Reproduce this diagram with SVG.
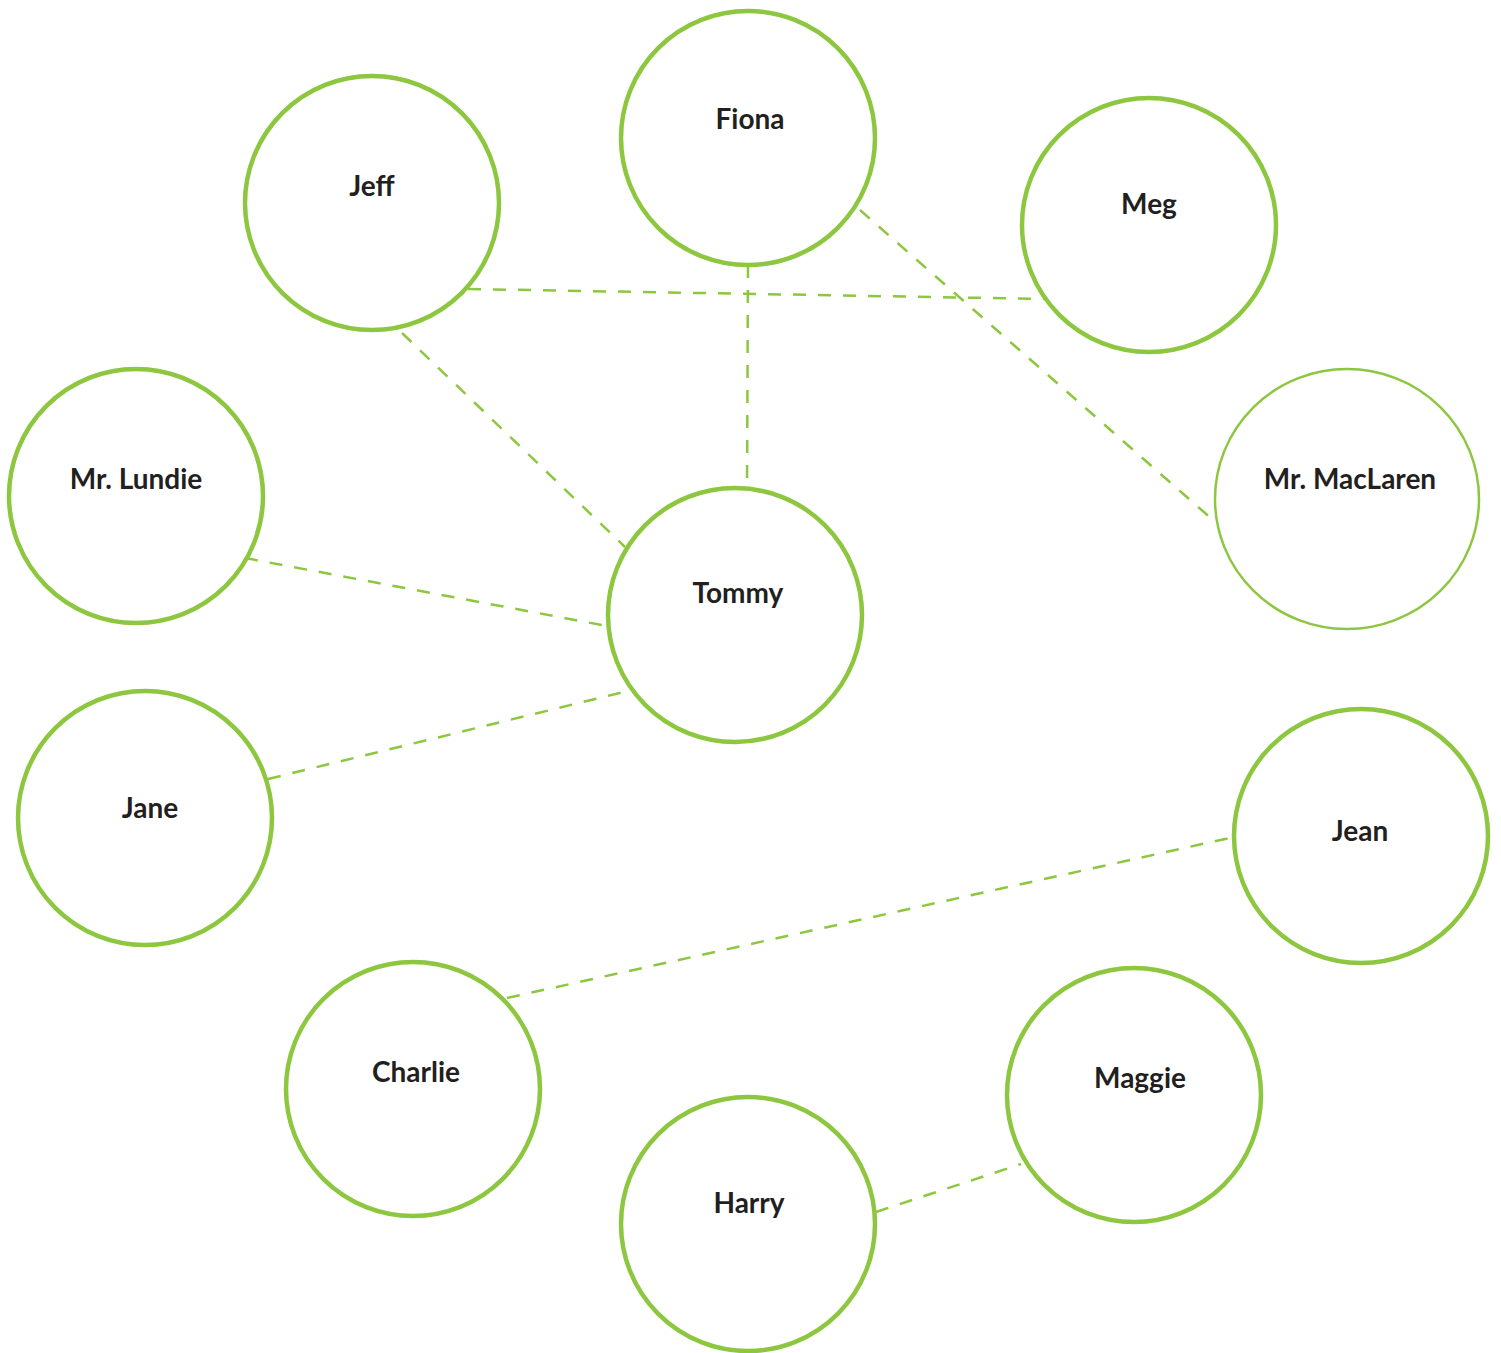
<svg xmlns="http://www.w3.org/2000/svg" width="1501" height="1353" viewBox="0 0 1501 1353">
<style>
.n{fill:#fff;stroke:#8dc63f;stroke-width:4.5}
.thin{stroke-width:2.5}
.e{stroke:#8dc63f;stroke-width:2.5;stroke-dasharray:13 12;fill:none}
text{font-family:Lato,"Open Sans","Liberation Sans",sans-serif;font-weight:700;font-size:28px;fill:#231f20;text-anchor:middle}
</style>
<rect width="1501" height="1353" fill="#fff"/>
<g id="connectors">
<line class="e" x1="748" y1="265" x2="747" y2="489"/>
<line class="e" x1="468" y1="289" x2="1047" y2="299"/>
<line class="e" x1="860" y1="210" x2="1213" y2="520"/>
<line class="e" x1="402" y1="333" x2="625" y2="547"/>
<line class="e" x1="245" y1="558" x2="607" y2="626"/>
<line class="e" x1="268" y1="779" x2="632" y2="690"/>
<line class="e" x1="507" y1="998" x2="1234" y2="837"/>
<line class="e" x1="876" y1="1212" x2="1021" y2="1164"/>
</g>
<g id="fiona"><circle class="n" cx="748" cy="138" r="127"/><text x="750" y="129">Fiona</text></g>
<g id="jeff"><circle class="n" cx="372" cy="203" r="127"/><text x="372" y="196">Jeff</text></g>
<g id="meg"><circle class="n" cx="1149" cy="225" r="127"/><text x="1149" y="214">Meg</text></g>
<g id="mr-lundie"><circle class="n" cx="136" cy="496" r="127"/><text x="136" y="489">Mr. Lundie</text></g>
<g id="mr-maclaren"><ellipse class="n thin" cx="1347" cy="499" rx="132" ry="130"/><text x="1350" y="489">Mr. MacLaren</text></g>
<g id="tommy"><circle class="n" cx="735" cy="615" r="127"/><text x="738" y="603">Tommy</text></g>
<g id="jane"><circle class="n" cx="145" cy="818" r="127"/><text x="150" y="818">Jane</text></g>
<g id="jean"><circle class="n" cx="1361" cy="836" r="127"/><text x="1360" y="841">Jean</text></g>
<g id="charlie"><circle class="n" cx="413" cy="1089" r="127"/><text x="416" y="1082">Charlie</text></g>
<g id="maggie"><circle class="n" cx="1134" cy="1095" r="127"/><text x="1140" y="1088">Maggie</text></g>
<g id="harry"><circle class="n" cx="748" cy="1224" r="127"/><text x="749" y="1213">Harry</text></g>
</svg>
